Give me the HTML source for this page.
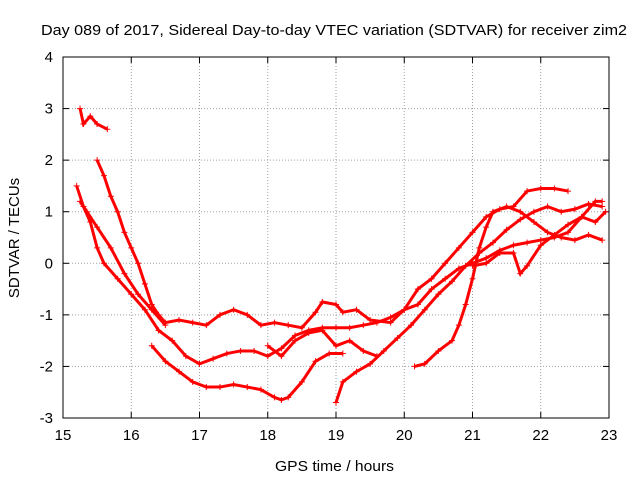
<!DOCTYPE html>
<html><head><meta charset="utf-8"><style>
body{margin:0;background:#fff;font-family:"Liberation Sans",sans-serif}
svg text{font-family:"Liberation Sans",sans-serif;font-size:15px;fill:#000}
</style></head><body>
<svg id="chart" width="640" height="480" xmlns="http://www.w3.org/2000/svg">
<text x="41" y="35" textLength="586" lengthAdjust="spacingAndGlyphs">Day 089 of 2017, Sidereal Day-to-day VTEC variation (SDTVAR) for receiver zim2</text>
<text x="275" y="471" textLength="119" lengthAdjust="spacingAndGlyphs">GPS time / hours</text>
<text transform="translate(19,238) rotate(-90)" text-anchor="middle">SDTVAR / TECUs</text>
<g id="grid"></g>
<g id="ticks"></g>
<g id="series"></g>
<rect x="63" y="57" width="546" height="361" fill="none" stroke="#000" stroke-width="1"/>
</svg>
<script>
const xTicks=[15,16,17,18,19,20,21,22,23];
const yTicks=[-3,-2,-1,0,1,2,3,4];
const trackA=[[15.25,3.0],[15.3,2.7],[15.4,2.85],[15.5,2.7],[15.65,2.6]];
const trackB=[[15.5,2.0],[15.6,1.7],[15.7,1.3],[15.8,1.0],[15.9,0.6],[16.0,0.3],[16.1,0.0],[16.2,-0.4],[16.3,-0.8],[16.4,-1.0],[16.5,-1.15],[16.7,-1.1],[16.9,-1.15],[17.1,-1.2],[17.3,-1.0],[17.5,-0.9],[17.7,-1.0],[17.9,-1.2],[18.1,-1.15],[18.3,-1.2],[18.5,-1.25],[18.7,-0.95],[18.8,-0.75],[19.0,-0.8],[19.1,-0.95],[19.3,-0.9],[19.5,-1.1],[19.8,-1.15],[20.0,-0.9],[20.2,-0.5],[20.4,-0.3],[20.6,0.0],[20.8,0.3],[21.0,0.6],[21.2,0.9],[21.4,1.05],[21.6,1.1],[21.8,1.4],[22.0,1.45],[22.2,1.45],[22.4,1.4]];
const trackC=[[15.2,1.5],[15.3,1.1],[15.4,0.8],[15.5,0.3],[15.6,0.0],[15.8,-0.3],[16.0,-0.6],[16.2,-0.9],[16.4,-1.3],[16.6,-1.5],[16.8,-1.8],[17.0,-1.95],[17.2,-1.85],[17.4,-1.75],[17.6,-1.7],[17.8,-1.7],[18.0,-1.8],[18.2,-1.65],[18.4,-1.4],[18.6,-1.3],[18.8,-1.25],[19.0,-1.25],[19.2,-1.25],[19.4,-1.2],[19.6,-1.15],[19.8,-1.05],[20.0,-0.9],[20.2,-0.8],[20.4,-0.5],[20.6,-0.3],[20.8,-0.1],[21.0,0.0],[21.2,0.1],[21.4,0.25],[21.6,0.35],[21.8,0.4],[22.0,0.45],[22.2,0.5],[22.4,0.6],[22.6,0.9],[22.8,1.2],[22.9,1.2]];
const trackD=[[15.25,1.2],[15.35,1.0],[15.5,0.7],[15.7,0.3],[15.9,-0.2],[16.1,-0.6],[16.3,-0.9],[16.5,-1.2]];
const trackE=[[16.3,-1.6],[16.5,-1.9],[16.7,-2.1],[16.9,-2.3],[17.1,-2.4],[17.3,-2.4],[17.5,-2.35],[17.7,-2.4],[17.9,-2.45],[18.1,-2.6],[18.2,-2.65],[18.3,-2.6],[18.5,-2.3],[18.7,-1.9],[18.9,-1.75],[19.1,-1.75]];
const trackF=[[19.0,-2.7],[19.1,-2.3],[19.3,-2.1],[19.5,-1.95],[19.7,-1.7],[19.9,-1.45],[20.1,-1.2],[20.3,-0.9],[20.5,-0.6],[20.7,-0.35],[20.9,-0.05],[21.1,0.2],[21.3,0.4],[21.5,0.65],[21.7,0.85],[21.9,1.0],[22.1,1.1],[22.3,1.0],[22.5,1.05],[22.7,1.15],[22.9,1.1]];
const trackG=[[20.15,-2.0],[20.3,-1.95],[20.5,-1.7],[20.7,-1.5],[20.8,-1.2],[20.9,-0.8],[21.0,-0.3],[21.1,0.3],[21.2,0.7],[21.3,1.0],[21.5,1.1],[21.7,1.0],[21.9,0.8],[22.1,0.6],[22.3,0.5],[22.5,0.45],[22.7,0.55],[22.9,0.45]];
const trackH=[[21.0,-0.05],[21.2,0.0],[21.4,0.2],[21.6,0.2],[21.7,-0.2],[21.8,-0.05],[22.0,0.35],[22.2,0.55],[22.4,0.75],[22.6,0.9],[22.8,0.8],[22.95,1.0]];
const trackI=[[18.0,-1.6],[18.2,-1.8],[18.4,-1.5],[18.6,-1.35],[18.8,-1.3],[19.0,-1.6],[19.2,-1.5],[19.4,-1.7],[19.6,-1.8]];
const tracks=[trackA,trackB,trackC,trackD,trackE,trackF,trackG,trackH,trackI];
const NS="http://www.w3.org/2000/svg";
const X0=63,X1=609,Y0=418,Y1=57;
function sx(v){return X0+(v-15)/(23-15)*(X1-X0);}
function sy(v){return Y0-(v+3)/(4+3)*(Y0-Y1);}
function mk(tag,attrs,parent){const e=document.createElementNS(NS,tag);for(const k in attrs)e.setAttribute(k,attrs[k]);parent.appendChild(e);return e;}
const grid=document.getElementById('grid'),ticks=document.getElementById('ticks'),ser=document.getElementById('series');
xTicks.forEach(t=>{const x=sx(t);
 if(t>15&&t<23){const g=mk('line',{x1:x,x2:x,y1:Y1,y2:Y0,stroke:'#a0a0a0','stroke-dasharray':'1,2'},grid);}
 const tm=mk('line',{x1:x,x2:x,y1:Y0,y2:Y0-6,stroke:'#000'},ticks);
 const tm2=mk('line',{x1:x,x2:x,y1:Y1,y2:Y1+6,stroke:'#000'},ticks);
 const tx=mk('text',{x:x,y:Y0+22,'text-anchor':'middle'},ticks);tx.textContent=t;});
yTicks.forEach(t=>{const y=sy(t);
 if(t>-3&&t<4){const g=mk('line',{x1:X0,x2:X1,y1:y,y2:y,stroke:'#a0a0a0','stroke-dasharray':'1,2'},grid);}
 const tm=mk('line',{x1:X0,x2:X0+6,y1:y,y2:y,stroke:'#000'},ticks);
 const tm2=mk('line',{x1:X1,x2:X1-6,y1:y,y2:y,stroke:'#000'},ticks);
 const tx=mk('text',{x:X0-10,y:y+5,'text-anchor':'end'},ticks);tx.textContent=t;});
tracks.forEach(tr=>{
 const pl=mk('polyline',{points:tr.map(p=>sx(p[0])+','+sy(p[1])).join(' '),fill:'none',stroke:'#f00','stroke-width':3},ser);
 
 
 tr.forEach(p=>{const x=sx(p[0]),y=sy(p[1]);
  const m=mk('path',{d:`M${x-3},${y}h6M${x},${y-3}v6`,stroke:'#f00','stroke-width':1},ser);
  
  });
});
</script>
</body></html>
